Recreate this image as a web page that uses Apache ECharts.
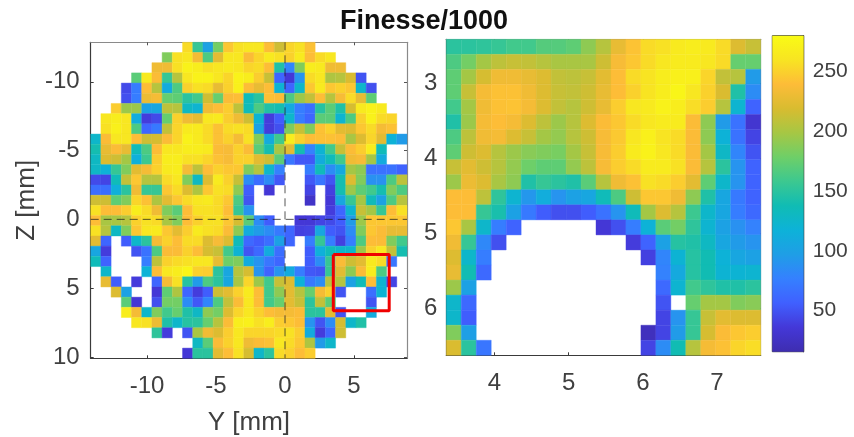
<!DOCTYPE html>
<html><head><meta charset="utf-8">
<script src="https://cdn.jsdelivr.net/npm/echarts@6/dist/echarts.min.js"></script>
<style>html,body{margin:0;padding:0;background:#fff}#c{width:854px;height:437px}</style>
</head><body><div id="c"></div>
<script>
const _ = null;
const wideMap = [
[_,_,_,_,_,_,_,_,_,255,155,100,180,245,258,262,262,240,215,252,258,242,_,_,_,_,_,_,_,_,_],
[_,_,_,_,_,_,_,185,258,262,235,165,225,262,262,238,252,265,258,250,265,240,255,262,_,_,_,_,_,_,_],
[_,_,_,_,_,_,232,232,258,272,268,258,262,265,262,252,255,240,145,80,185,268,265,232,232,_,_,_,_,_,_],
[_,_,_,_,170,265,238,155,205,262,272,272,262,252,272,268,248,212,60,35,90,255,262,202,205,220,50,_,_,_,_],
[_,_,_,45,75,240,205,110,165,250,258,255,228,250,270,240,228,240,120,60,125,245,265,245,250,245,125,48,_,_,_],
[_,_,_,48,75,230,235,175,172,150,160,215,175,238,240,135,150,242,238,165,195,210,240,205,236,255,228,172,_,_,_],
[_,_,248,195,195,100,105,208,205,130,122,232,240,248,208,135,165,145,140,110,75,65,148,170,145,218,265,272,265,_,_],
[_,262,268,262,112,38,45,175,250,232,225,262,265,248,232,215,120,38,55,125,75,60,170,170,122,165,250,272,255,252,_],
[_,258,270,262,165,60,72,210,252,265,265,255,242,255,258,255,100,38,48,185,212,185,242,250,225,222,245,255,235,242,_],
[125,238,262,262,240,215,218,238,252,272,265,255,242,250,235,258,185,110,160,268,250,240,242,242,240,200,222,252,225,118,95],
[140,228,238,228,135,165,240,262,262,268,268,265,238,236,250,238,170,140,200,225,140,78,120,160,212,238,248,268,135,_,_],
[130,222,215,198,115,158,248,268,268,258,258,252,242,236,250,250,225,215,170,70,52,52,110,135,160,232,236,198,110,_,_],
[128,118,155,185,225,235,250,265,268,235,208,240,250,245,245,185,205,125,78,_,_,75,135,85,108,198,190,68,68,68,58],
[45,42,135,210,245,205,205,255,262,185,130,222,265,250,212,85,65,85,52,_,_,52,70,50,140,222,185,88,88,165,208],
[65,65,115,150,232,155,155,245,255,222,202,245,258,255,190,55,_,35,_,_,_,42,_,40,140,195,172,160,140,185,165],
[215,215,172,185,252,242,202,225,245,255,262,265,255,245,165,50,_,_,_,_,_,28,_,35,105,155,198,135,100,165,205],
[258,240,240,248,268,255,232,185,170,240,258,258,255,240,155,90,_,_,_,_,_,_,_,38,60,122,212,198,155,240,258],
[240,200,200,205,250,258,255,200,185,240,250,258,258,245,218,170,85,55,_,_,35,35,42,45,55,95,195,245,245,245,245],
[258,205,130,185,245,262,265,245,225,248,265,258,255,238,190,110,95,85,72,60,40,42,105,55,50,85,185,245,238,228,228],
[225,60,_,55,125,150,235,250,240,255,255,222,236,222,135,62,55,65,100,60,_,75,155,75,40,75,165,240,238,185,160],
[105,38,_,_,50,68,165,238,238,250,240,218,212,160,120,50,62,110,65,_,_,55,115,135,125,125,195,250,262,210,140],
[135,58,_,_,_,75,208,250,255,258,262,262,228,178,185,110,90,70,60,_,_,55,85,155,238,215,225,265,255,70,_],
[_,125,_,_,_,118,240,262,268,275,250,248,150,105,205,218,90,58,90,110,75,52,50,155,225,190,238,268,165,_,_],
[_,228,55,_,38,_,60,235,258,148,95,165,150,105,200,252,195,160,212,222,118,72,85,205,205,100,135,240,122,42,_],
[_,_,222,100,_,_,35,172,202,60,38,55,215,225,250,265,240,160,190,225,205,175,235,250,50,_,_,65,120,_,_],
[_,_,_,170,35,_,48,180,180,85,52,80,165,210,238,262,240,160,175,225,212,150,210,170,_,_,_,50,_,_,_],
[_,_,_,268,235,125,185,160,175,145,128,190,180,222,252,262,250,240,235,235,238,150,150,225,50,_,_,110,_,_,_],
[_,_,_,_,262,258,230,145,125,148,150,175,205,238,268,270,258,268,248,245,240,90,50,85,218,125,145,_,_,_,_],
[_,_,_,_,_,_,152,38,_,50,200,232,222,248,262,252,252,252,255,258,248,110,38,60,215,_,_,_,_,_,_],
[_,_,_,_,_,_,_,_,_,_,130,170,238,250,262,232,238,242,262,255,245,202,95,125,_,_,_,_,_,_,_],
[_,_,_,_,_,_,_,_,_,35,150,150,225,240,258,218,125,150,255,250,240,248,_,_,_,_,_,_,_,_,_]
];
const zoomMap = [
[150,150,152,155,160,160,168,168,172,190,205,228,243,255,258,265,268,265,255,222,212],
[165,180,198,208,212,210,205,200,200,200,215,236,245,255,262,266,266,262,255,175,175],
[172,198,218,232,232,228,222,210,208,212,225,240,255,260,268,270,270,252,210,205,95],
[172,212,235,242,242,232,222,212,210,215,228,240,250,260,268,275,262,250,220,145,85],
[160,198,232,242,243,235,222,210,205,215,228,248,262,265,272,268,256,248,205,122,58],
[145,195,235,240,235,222,208,195,205,222,238,245,255,262,266,266,238,190,95,68,32],
[165,208,232,235,222,212,198,192,205,215,236,246,262,270,260,255,238,190,118,68,42],
[172,215,222,205,195,188,185,182,198,212,236,248,266,272,262,255,238,198,128,80,50],
[212,225,215,205,192,178,172,172,192,208,236,248,255,266,266,258,238,205,150,90,58],
[195,230,222,200,190,145,155,150,145,170,205,232,242,258,255,248,225,172,125,90,58],
[240,240,208,152,122,92,112,90,100,105,135,165,215,245,245,232,190,145,105,72,58],
[240,240,155,142,100,72,55,48,48,55,68,90,135,198,222,205,158,125,105,75,62],
[245,200,125,75,58,_,_,_,_,_,35,48,75,118,170,180,152,122,100,88,78],
[232,155,82,48,_,_,_,_,_,_,_,_,38,58,100,148,145,130,105,95,90],
[222,125,75,_,_,_,_,_,_,_,_,_,_,40,80,120,148,138,118,105,100],
[228,138,62,_,_,_,_,_,_,_,_,_,_,_,78,108,148,138,120,120,122],
[195,100,_,_,_,_,_,_,_,_,_,_,_,_,62,122,160,152,145,145,150],
[125,62,_,_,_,_,_,_,_,_,_,_,_,_,50,_,175,198,198,185,188],
[125,55,_,_,_,_,_,_,_,_,_,_,_,_,42,90,155,212,225,222,222],
[185,98,_,_,_,_,_,_,_,_,_,_,_,22,42,95,155,218,238,245,248],
[220,150,70,_,_,_,_,_,_,_,_,_,_,42,85,138,205,235,242,252,256]
];
const parula = ['#3e2db0','#4438d8','#4060ff','#3580ff','#1f9ee6','#0db2d8','#10bcb4','#3cc890','#6ecf68','#a6c744','#d8bc30','#fdbc38','#f8e422','#f9fb15'];
const wideYRange = [-14.08, 8.84];
const wideZRange = [-12.87, 10.1];
const zoomYRange = [3.35, 7.59];
const zoomZRange = [2.42, 6.62];
const colorRange = [15.6, 280];
const wideYTicks = [-10, -5, 0, 5];
const wideZTicks = [-10, -5, 0, 5, 10];
const zoomYTicks = [4, 5, 6, 7];
const zoomZTicks = [3, 4, 5, 6];
const colorTicks = [50, 100, 150, 200, 250];
const boxY = [3.5, 7.55, 7.55, 3.5, 3.5];
const boxZ = [2.55, 2.55, 6.65, 6.65, 2.55];

const textColor = '#404040', font = 'Liberation Sans';

function cells(rows, yr, zr) {
  const n = rows[0].length, m = rows.length;
  const dy = (yr[1] - yr[0]) / n, dz = (zr[1] - zr[0]) / m, out = [];
  rows.forEach((row, r) => row.forEach((v, c) => {
    if (v !== null) out.push([yr[0] + dy * (c + .5), zr[0] + dz * (r + .5), v, dy, dz]);
  }));
  return out;
}
function renderCell(params, api) {
  const y = api.value(0), z = api.value(1), dy = api.value(3), dz = api.value(4);
  const a = api.coord([y - dy / 2, z - dz / 2]), b = api.coord([y + dy / 2, z + dz / 2]);
  const color = api.visual('color');
  return {type: 'rect',
    shape: {x: a[0], y: a[1], width: b[0] - a[0], height: b[1] - a[1]},
    style: {fill: color, stroke: color, lineWidth: 0.4}};
}
function axisBase(range, ticks, extra) {
  return Object.assign({
    type: 'value', min: range[0], max: range[1], splitLine: {show: false},
    axisLine: {show: true, onZero: false, lineStyle: {color: '#3a3a3a', width: 1.2}},
    axisTick: {show: true, inside: true, length: 3, customValues: ticks, lineStyle: {color: '#3a3a3a'}},
    axisLabel: {show: true, customValues: ticks, color: textColor, fontFamily: font, fontSize: 24, margin: 11, hideOverlap: false}
  }, extra);
}
function mirror(range, ticks, extra) {
  const a = axisBase(range, ticks, extra);
  a.axisLabel = {show: false, customValues: ticks};
  a.axisLine.lineStyle = {color: '#8a8a8a', width: 1.2};
  a.axisTick.lineStyle = {color: '#555'};
  return a;
}
const xLabel = {show: true, color: textColor, fontFamily: font, fontSize: 24, margin: 16, hideOverlap: false};
const nameStyle = {color: textColor, fontFamily: font, fontSize: 26};
const stops = parula.map((c, i) => ({offset: i / (parula.length - 1), color: c}));

const option = {
  animation: false,
  title: {text: 'Finesse/1000', left: 419, top: 3, textAlign: 'center',
    textStyle: {fontFamily: font, fontWeight: 'bold', fontSize: 27, color: '#111'}},
  grid: [
    {left: 90.7, top: 42.3, width: 316.3, height: 316, outerBoundsMode: 'none'},
    {left: 446.3, top: 39.3, width: 314.4, height: 316, outerBoundsMode: 'none'},
    {left: 772.3, top: 35.7, width: 31.4, height: 316, show: true, borderColor: '#333', borderWidth: 1, outerBoundsMode: 'none'}
  ],
  xAxis: [
    axisBase(wideYRange, wideYTicks, {gridIndex: 0, position: 'bottom', name: 'Y [mm]', nameLocation: 'middle', nameGap: 52, nameTextStyle: nameStyle,
      axisLabel: Object.assign({customValues: wideYTicks}, xLabel)}),
    mirror(wideYRange, wideYTicks, {gridIndex: 0, position: 'top'}),
    axisBase(zoomYRange, zoomYTicks, {gridIndex: 1, position: 'bottom',
      axisLabel: Object.assign({customValues: zoomYTicks}, xLabel)}),
    mirror(zoomYRange, zoomYTicks, {gridIndex: 1, position: 'top'}),
    {type: 'value', gridIndex: 2, min: 0, max: 1, show: false}
  ],
  yAxis: [
    axisBase(wideZRange, wideZTicks, {gridIndex: 0, inverse: true, position: 'left', name: 'Z [mm]', nameLocation: 'middle', nameGap: 51, nameRotate: 90, nameTextStyle: nameStyle}),
    mirror(wideZRange, wideZTicks, {gridIndex: 0, inverse: true, position: 'right'}),
    axisBase(zoomZRange, zoomZTicks, {gridIndex: 1, inverse: true, position: 'left', axisLabel: {show: true, customValues: zoomZTicks, color: textColor, fontFamily: font, fontSize: 24, margin: 9, hideOverlap: false}}),
    mirror(zoomZRange, zoomZTicks, {gridIndex: 1, inverse: true, position: 'right'}),
    axisBase(colorRange, colorTicks, {gridIndex: 2, position: 'right',
      axisLabel: {show: true, customValues: colorTicks, color: textColor, fontFamily: font, fontSize: 21, margin: 9}})
  ],
  visualMap: {show: false, type: 'continuous', min: colorRange[0], max: colorRange[1], dimension: 2,
    seriesIndex: [0, 1], inRange: {color: parula}},
  series: [
    {type: 'custom', xAxisIndex: 0, yAxisIndex: 0, renderItem: renderCell, data: cells(wideMap, wideYRange, wideZRange), encode: {x: 0, y: 1}, z: 1},
    {type: 'custom', xAxisIndex: 2, yAxisIndex: 2, renderItem: renderCell, data: cells(zoomMap, zoomYRange, zoomZRange), encode: {x: 0, y: 1}, z: 1},
    {type: 'line', xAxisIndex: 0, yAxisIndex: 0, showSymbol: false, silent: true, z: 3,
      lineStyle: {color: 'rgba(30,30,30,.75)', width: 1, type: [8, 5]}, data: [[0, wideZRange[0]], [0, wideZRange[1]]]},
    {type: 'line', xAxisIndex: 0, yAxisIndex: 0, showSymbol: false, silent: true, z: 3,
      lineStyle: {color: 'rgba(30,30,30,.75)', width: 1, type: [8, 5]}, data: [[wideYRange[0], 0], [wideYRange[1], 0]]},
    {type: 'line', xAxisIndex: 0, yAxisIndex: 0, showSymbol: false, silent: true, z: 4,
      lineStyle: {color: '#f00000', width: 3}, data: boxY.map((y, i) => [y, boxZ[i]])},
    {type: 'custom', xAxisIndex: 4, yAxisIndex: 4, silent: true, z: 1, data: [[0, colorRange[0], 1, colorRange[1]]],
      encode: {x: [0, 2], y: [1, 3]},
      renderItem(params, api) {
        const a = api.coord([api.value(0), api.value(3)]), b = api.coord([api.value(2), api.value(1)]);
        return {type: 'rect', shape: {x: a[0], y: a[1], width: b[0] - a[0], height: b[1] - a[1]},
          style: {fill: new echarts.graphic.LinearGradient(0, 1, 0, 0, stops)}};
      }}
  ]
};
const chart = echarts.init(document.getElementById('c'), null, {renderer: 'canvas'});
chart.setOption(option);
</script></body></html>
